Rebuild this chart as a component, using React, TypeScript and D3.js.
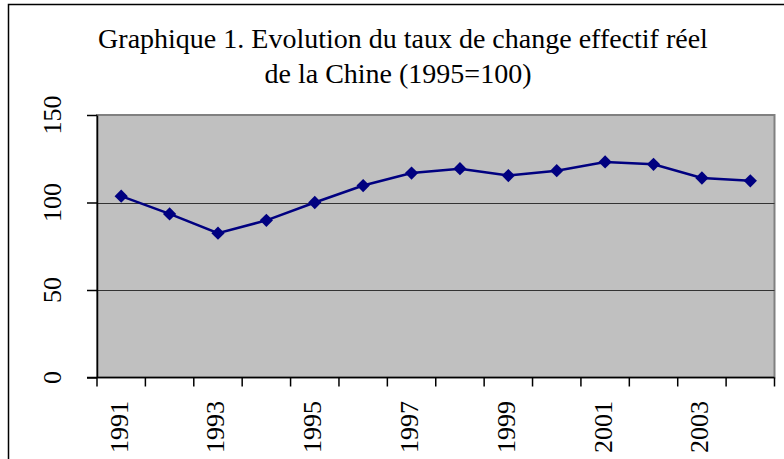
import { useEffect, useRef } from "react";
import * as d3 from "d3";

const years = [
  "1991", "1992", "1993", "1994", "1995", "1996", "1997",
  "1998", "1999", "2000", "2001", "2002", "2003", "2004",
];
const tcer = [103.6, 93.5, 82.5, 89.8, 100, 109.7, 116.8, 119.3, 115.4, 118.2, 123.2, 121.8, 114, 112.4];
const yTicks = [0, 50, 100, 150];
const xLabelYears = ["1991", "1993", "1995", "1997", "1999", "2001", "2003"];
const titleLines = ["Graphique 1. Evolution du taux de change effectif réel", "de la Chine (1995=100)"];

export default function App() {
  const svgRef = useRef<SVGSVGElement>(null);

  useEffect(() => {
    if (!svgRef.current) return;
    const svg = d3.select(svgRef.current);
    svg.selectAll("*").remove();

    const width = 784;
    const height = 459;
    const plot = { left: 97, right: 774.5, top: 115, bottom: 377.5 };
    const font = "Liberation Serif, DejaVu Serif, serif";

    svg.append("rect").attr("width", width).attr("height", height).attr("fill", "#fff");

    // outer chart frame (cropped at right/bottom)
    svg.append("rect")
      .attr("x", 8.5).attr("y", 4.5)
      .attr("width", 800).attr("height", 500)
      .attr("fill", "none").attr("stroke", "#000").attr("stroke-width", 1.5);

    // title
    titleLines.forEach((t, i) => {
      svg.append("text")
        .attr("x", i === 0 ? 403 : 398)
        .attr("y", i === 0 ? 48 : 83)
        .attr("text-anchor", "middle")
        .attr("font-family", font)
        .attr("font-size", "28px")
        .attr("fill", "#000")
        .text(t);
    });

    const x = d3.scaleBand().domain(years).range([plot.left, plot.right]);
    const y = d3.scaleLinear().domain([0, 150]).range([plot.bottom, plot.top]);

    // plot area
    svg.append("rect")
      .attr("x", plot.left).attr("y", plot.top)
      .attr("width", plot.right - plot.left).attr("height", plot.bottom - plot.top)
      .attr("fill", "#c0c0c0")
      .attr("stroke", "#808080").attr("stroke-width", 2);

    // gridlines
    svg.append("g")
      .selectAll("line")
      .data(yTicks.filter((v) => v > 0 && v < 150))
      .join("line")
      .attr("x1", plot.left).attr("x2", plot.right)
      .attr("y1", (d) => Math.round(y(d)) + 0.5).attr("y2", (d) => Math.round(y(d)) + 0.5)
      .attr("stroke", "#333").attr("stroke-width", 1);

    // y axis
    const yAxis = svg.append("g")
      .attr("transform", `translate(${plot.left},0)`)
      .call(d3.axisLeft(y).tickValues(yTicks).tickSize(10).tickSizeOuter(0).tickFormat(() => ""));
    yAxis.selectAll("path, line").attr("stroke", "#000").attr("stroke-width", 1.5);

    yTicks.forEach((v) => {
      svg.append("text")
        .attr("transform", `translate(52,${y(v)}) rotate(-90)`)
        .attr("text-anchor", "middle")
        .attr("dominant-baseline", "central")
        .attr("font-family", font)
        .attr("font-size", "26px")
        .attr("fill", "#000")
        .text(String(v));
    });

    // x axis with ticks between categories
    const xg = svg.append("g");
    xg.append("line")
      .attr("x1", plot.left - 10).attr("x2", plot.right)
      .attr("y1", plot.bottom).attr("y2", plot.bottom)
      .attr("stroke", "#000").attr("stroke-width", 1.5);
    const bounds = years.map((yr) => x(yr) as number).concat([plot.right]);
    xg.selectAll("line.tick")
      .data(bounds)
      .join("line")
      .attr("class", "tick")
      .attr("x1", (d) => d).attr("x2", (d) => d)
      .attr("y1", plot.bottom).attr("y2", plot.bottom + 9)
      .attr("stroke", "#000").attr("stroke-width", 1.5);

    xLabelYears.forEach((yr) => {
      const cx = (x(yr) as number) + x.bandwidth() / 2 - 2;
      svg.append("text")
        .attr("transform", `translate(${cx},401) rotate(-90)`)
        .attr("text-anchor", "end")
        .attr("dominant-baseline", "central")
        .attr("font-family", font)
        .attr("font-size", "26px")
        .attr("fill", "#000")
        .text(yr);
    });

    // series
    const pts = years.map((yr, i) => [(x(yr) as number) + x.bandwidth() / 2, y(tcer[i])] as [number, number]);
    svg.append("path")
      .attr("d", d3.line()(pts))
      .attr("fill", "none")
      .attr("stroke", "#000080")
      .attr("stroke-width", 2.5);

    svg.append("g")
      .selectAll("path")
      .data(pts)
      .join("path")
      .attr("transform", (d) => `translate(${d[0]},${d[1]}) rotate(45)`)
      .attr("d", d3.symbol(d3.symbolSquare, 88)())
      .attr("fill", "#000080");
  }, []);

  return (
    <svg
      ref={svgRef}
      width={784}
      height={459}
      style={{ position: "absolute", left: 0, top: 0 }}
    />
  );
}
